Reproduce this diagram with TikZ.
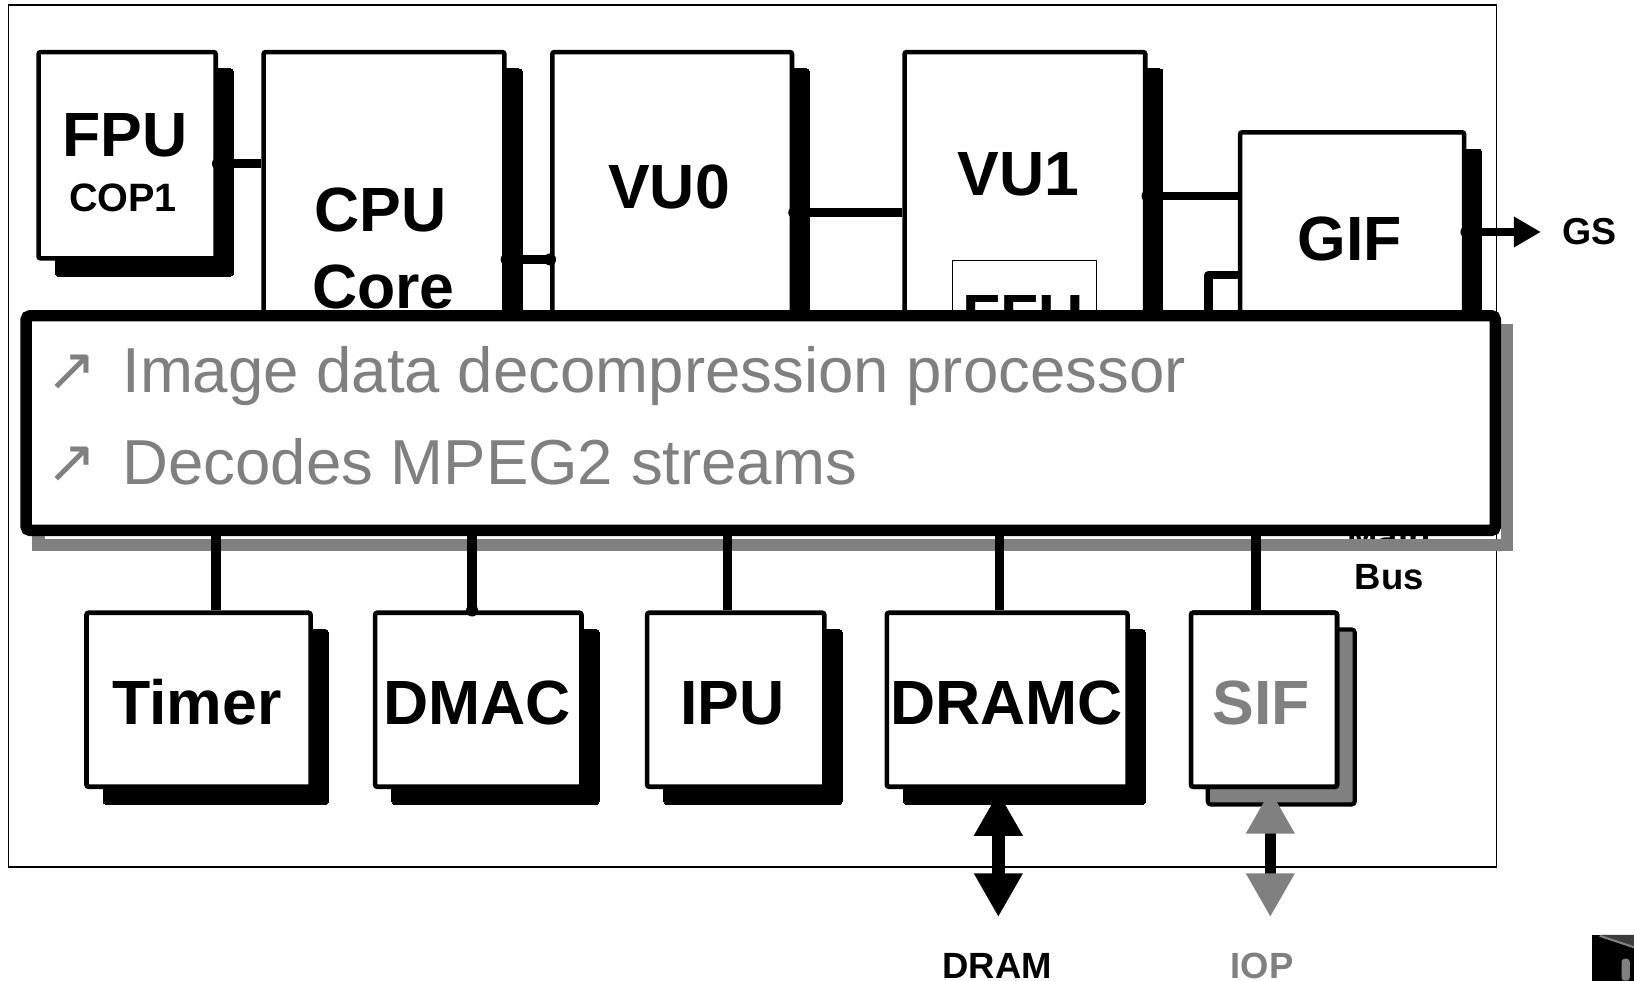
\documentclass[tikz,border=0pt]{standalone}
\usepackage{fontspec}
\setmainfont{Liberation Sans}
\newfontfamily\dejavu{DejaVu Sans}
\usetikzlibrary{fit,arrows.meta}
\definecolor{gr}{HTML}{808080}
\definecolor{dgr}{HTML}{3C3C3C}
\newcommand\mybox[6][black]{%
  \filldraw[fill=#1, draw=black, line width=0pt, rounded corners=1.5pt] (#3+16,#4+16) rectangle (#5+17,#6+17);
  \node[blk, fit={(#3,#4) (#5,#6)}] (#2) {};}
\begin{document}
\begin{tikzpicture}[x=0.5pt,y=-0.5pt,
  blk/.style={draw=black, line width=2.2pt, fill=white, rounded corners=1pt, inner sep=0pt},
  thinbox/.style={draw=black, line width=0.6pt, fill=white, inner sep=0pt},
  conn/.style={line width=4.2pt},
  vconn/.style={line width=4.6pt},
  big/.style={font=\bfseries\fontsize{30}{30}\selectfont, anchor=base, inner sep=0pt},
  small/.style={font=\bfseries\fontsize{18}{18}\selectfont, anchor=base, inner sep=0pt},
  bul/.style={font=\fontsize{30.5}{30.5}\selectfont, text=gr, anchor=base west, inner sep=0pt},
  arr/.style={font=\dejavu\fontsize{29}{29}\selectfont, text=gr, anchor=base west, inner sep=0pt},
]
\useasboundingbox (0,0) rectangle (1568,941);
\draw[line width=0.75pt] (8,5) rectangle (1436,832);

% top row
\mybox{fpu}{37}{50}{207}{248}
\mybox{cpu}{253}{50}{484}{420}
\mybox{vu0}{530}{50}{760}{420}
\mybox{vu1}{868}{50}{1099}{420}
\mybox{gif}{1190}{127}{1405}{420}
\node[thinbox, fit={(914,250) (1052,420)}] (ffu) {};

\node[big] (tfpu) at (120,150) {FPU};
\node[small, font=\bfseries\fontsize{19}{19}\selectfont] (tcop) at (118,203) {COP1};
\node[big] (tcpu) at (365,222) {CPU};
\node[big] (tcore) at (368,296) {Core};
\node[big] (tvu0) at (642,200) {VU0};
\node[big] (tvu1) at (977,188) {VU1};
\node[big] (tffu) at (982,325) {FFU};
\node[big] (tgif) at (1295,250) {GIF};
\node[small] (tgs) at (1525,235) {GS};

\coordinate (y1) at (0,157);
\draw[conn] (fpu.east |- y1) -- (cpu.west |- y1);
\fill (fpu.east |- y1) circle[radius=2.9pt];
\coordinate (y2) at (0,249);
\draw[conn] (cpu.east |- y2) -- (vu0.west |- y2);
\fill (cpu.east |- y2) circle[radius=2.9pt];
\fill (vu0.west |- y2) circle[radius=2.9pt];
\coordinate (y3) at (0,204);
\draw[conn] (vu0.east |- y3) -- (vu1.west |- y3);
\fill (vu0.east |- y3) circle[radius=2.9pt];
\coordinate (y4) at (0,188);
\draw[conn] (vu1.east |- y4) -- (gif.west |- y4);
\fill (vu1.east |- y4) circle[radius=2.9pt];
\coordinate (y5) at (0,264);
\coordinate (bk) at (1160,320);
\draw[conn, line join=round] (gif.west |- y5) -| (bk);
\draw[conn, -{Triangle[length=13pt,width=14pt]}] (gif.east |- tgs.west) -- ([xshift=-10pt]tgs.west);
\fill (gif.east |- tgs.west) circle[radius=2.9pt];

% bus labels
\node[small, font=\bfseries\fontsize{17.5}{17.5}\selectfont] (tmain) at (1333,527) {Main};
\node[small, font=\bfseries\fontsize{17.5}{17.5}\selectfont] (tbus) at (1333,566) {Bus};

% bottom row
\mybox{timer}{83}{588}{298}{755}
\mybox{dmac}{360}{588}{558}{755}
\mybox{ipu}{621}{588}{791}{755}
\mybox{dramc}{851}{588}{1082}{755}
\mybox[gr]{sif}{1143}{588}{1283}{755}
\draw[line width=2pt, rounded corners=1.5pt] (1159,604) rectangle (1300,772);
\node[blk, fit={(1143,588) (1283,755)}] (sif2) {};

\node[big] (ttimer) at (189,695) {Timer};
\node[big] (tdmac) at (458,695) {DMAC};
\node[big] (tipu) at (703,695) {IPU};
\node[big] (tdramc) at (966,695) {DRAMC};
\node[big, text=gr] (tsif) at (1210,695) {SIF};

% bus shadow and connectors
\draw[gr, line width=6pt] (37,317) rectangle (1446,523);
\coordinate (b1) at (207,500);
\coordinate (b2) at (453,500);
\coordinate (b3) at (698,500);
\coordinate (b4) at (959,500);
\coordinate (b5) at (1205,500);
\draw[vconn] (b1) -- (b1 |- timer.north);
\draw[vconn] (b2) -- (b2 |- dmac.north);
\fill (b2 |- dmac.north) circle[radius=2.9pt];
\draw[vconn] (b3) -- (b3 |- ipu.north);
\draw[vconn] (b4) -- (b4 |- dramc.north);
\draw[vconn] (b5) -- (b5 |- sif2.north);

% overlay box
\node[fit={(25,303) (1435,509)}, draw=black, line width=5.5pt, fill=white, rounded corners=2pt, inner sep=0pt] (ovl) {};
\node[arr] (a1) at (44,375) {↗};
\node[arr] (a2) at (44,463) {↗};
\node[bul] (l1) at (117,377) {Image data decompression processor};
\node[bul] (l2) at (117,465) {Decodes MPEG2 streams};

% external arrows
\node[small, font=\bfseries\fontsize{17.5}{17.5}\selectfont] (tdram) at (957,939) {DRAM};
\node[small, font=\bfseries\fontsize{17.5}{17.5}\selectfont, text=gr] (tiop) at (1211,939) {IOP};
\coordinate (dtop) at (958,760);
\coordinate (dbot) at (958,880);
\draw[line width=6pt, arrows={Triangle[length=21pt,width=22pt]-Triangle[length=21pt,width=22pt]}] (dtop) -- (dbot);
\coordinate (itop) at (1219,758);
\coordinate (ibot) at (1219,880);
\draw[line width=5.5pt, arrows={Triangle[length=21pt,width=22pt,color=gr]-Triangle[length=21pt,width=22pt,color=gr]}] (itop) -- (ibot);

% corner fragment
\fill[black] (1528,897) rectangle (1568,941);
\fill[dgr] (1535,897) -- (1568,897) -- (1568,908) -- cycle;
\draw[gr, line width=1pt] (1535,898) -- (1568,909);
\fill[gr, rounded corners=1.5pt] (1556,941) rectangle (1564,920);
\end{tikzpicture}
\end{document}
